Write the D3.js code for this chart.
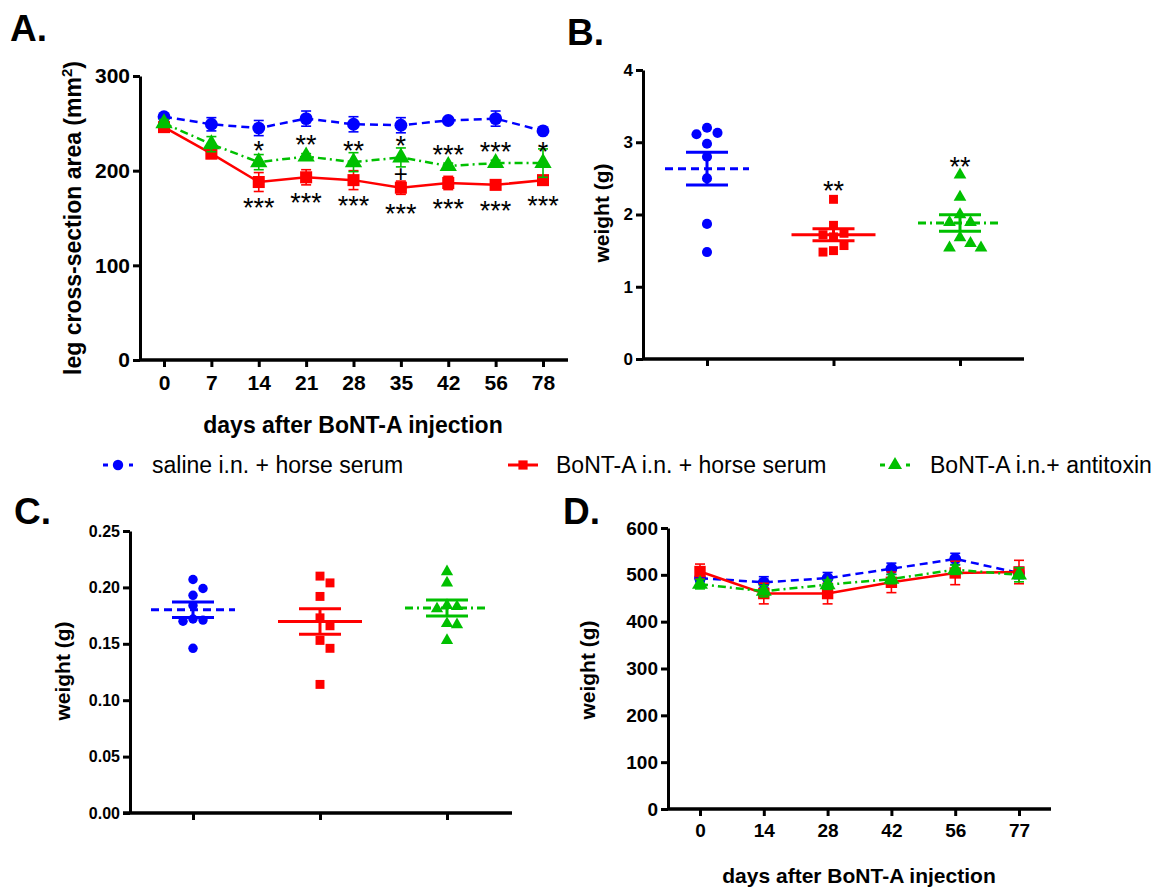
<!DOCTYPE html>
<html>
<head>
<meta charset="utf-8">
<script src="https://cdn.jsdelivr.net/npm/d3@7"></script>
<style>
  body { margin: 0; background: #fff; }
  text { font-family: "Liberation Sans", Arial, sans-serif; }
  .tick text { font-weight: bold; fill: #000; }
</style>
</head>
<body>
<div id="fig"></div>
<script>
// ---- data ----
// A: leg cross-section area (mm2)
var daysA = ["0", "7", "14", "21", "28", "35", "42", "56", "78"];
var salineA = [257, 249, 245, 255, 249, 248, 253, 255, 242];
var salineAErr = [3, 7, 8, 8, 8, 8, 2, 8, 2];
var bontA = [246, 218, 188, 193, 190, 182, 187, 185, 190];
var bontAErr = [5, 5, 10, 8, 10, 7, 7, 4, 4];
var antitoxA = [250, 228, 209, 215, 209, 214, 205, 208, 208];
var antitoxAErr = [4, 8, 8, 3, 10, 10, 3, 3, 15];
var starsAntitoxA = ["", "", "*", "**", "**", "*", "***", "***", "*"];
var starsBontA = ["", "", "***", "***", "***", "***", "***", "***", "***"];
var plusA = ["", "", "", "", "", "+", "", "", ""];

// B: weight (g), individual animals
var salineB = [3.11, 3.20, 3.13, 2.98, 2.80, 2.50, 1.87, 1.48];
var bontB = [1.72, 1.57, 1.69, 2.21, 1.50, 1.74, 1.48, 1.85];
var antitoxB = [2.55, 2.24, 2.00, 1.89, 1.89, 1.68, 1.60, 1.54, 1.54];
var starsB = ["", "**", "**"];

// C: weight (g), individual animals
var salineC = [0.207, 0.199, 0.193, 0.184, 0.172, 0.171, 0.170, 0.146];
var bontC = [0.210, 0.204, 0.192, 0.173, 0.166, 0.153, 0.146, 0.114];
var antitoxC = [0.214, 0.204, 0.184, 0.183, 0.181, 0.168, 0.167, 0.153];

// D: body weight (g)
var daysD = ["0", "14", "28", "42", "56", "77"];
var salineD = [493, 484, 493, 513, 534, 504];
var salineDErr = [8, 12, 12, 12, 12, 12];
var bontD = [507, 460, 460, 484, 504, 506];
var bontDErr = [16, 22, 22, 22, 25, 25];
var antitoxD = [480, 465, 479, 491, 511, 500];
var antitoxDErr = [10, 12, 10, 10, 10, 15];

var groupNames = ["saline i.n. + horse serum", "BoNT-A i.n. + horse serum", "BoNT-A i.n.+ antitoxin"];

// ---- styles ----
var styles = [
  { color: "#0000ff", dash: "8,5", shape: d3.symbolCircle },
  { color: "#ff0000", dash: null, shape: d3.symbolSquare },
  { color: "#00c000", dash: "8,4,2,4", shape: d3.symbolTriangle }
];

var svg = d3.select("#fig").append("svg")
  .attr("width", 1161)
  .attr("height", 893)
  .style("background", "#fff");

function panelLabel(x, y, t) {
  svg.append("text").attr("x", x).attr("y", y)
    .attr("font-size", 37).attr("font-weight", "bold")
    .text(t);
}

function yAxis(scale, x, ticks, fmt, fs) {
  var g = svg.append("g")
    .attr("transform", "translate(" + x + ",0)")
    .call(d3.axisLeft(scale).tickValues(ticks).tickFormat(fmt).tickSize(7).tickSizeOuter(0).tickPadding(3));
  g.select(".domain").attr("stroke-width", 3).attr("stroke", "#000");
  g.selectAll(".tick line").attr("stroke-width", 3).attr("stroke", "#000");
  g.selectAll(".tick text").attr("font-size", fs);
  return g;
}

function xAxis(scale, y, x0, x1, showLabels, fs) {
  var g = svg.append("g")
    .attr("transform", "translate(0," + y + ")")
    .call(d3.axisBottom(scale).tickSize(7).tickPadding(8));
  g.select(".domain").remove();
  g.append("line").attr("x1", x0).attr("x2", x1).attr("y1", 0).attr("y2", 0)
    .attr("stroke", "#000").attr("stroke-width", 3.5);
  g.selectAll(".tick line").attr("stroke-width", 3).attr("stroke", "#000");
  g.selectAll(".tick text").attr("font-size", fs);
  if (!showLabels) g.selectAll(".tick text").remove();
  return g;
}

function yTitle(x, y, fs) {
  return svg.append("text")
    .attr("transform", "translate(" + x + "," + y + ")rotate(-90)")
    .attr("text-anchor", "middle")
    .attr("font-size", fs).attr("font-weight", "bold");
}

// time-course panel (A and D)
function timeCourse(cats, series, xs, ys, size, cap) {
  series.forEach(function (s) {
    var st = styles[s.style];
    var g = svg.append("g");
    var line = d3.line().x(function (d, j) { return xs(cats[j]); }).y(function (d) { return ys(d); });
    g.append("path").datum(s.values)
      .attr("d", line)
      .attr("fill", "none")
      .attr("stroke", st.color)
      .attr("stroke-width", 2.5)
      .attr("stroke-dasharray", st.dash);
    // error bars
    s.values.forEach(function (v, j) {
      var x = xs(cats[j]);
      var e = s.errs[j];
      var eb = g.append("g").attr("stroke", st.color).attr("stroke-width", 1.6);
      eb.append("line").attr("x1", x).attr("x2", x).attr("y1", ys(v - e)).attr("y2", ys(v + e));
      eb.append("line").attr("x1", x - cap).attr("x2", x + cap).attr("y1", ys(v + e)).attr("y2", ys(v + e));
      eb.append("line").attr("x1", x - cap).attr("x2", x + cap).attr("y1", ys(v - e)).attr("y2", ys(v - e));
    });
    g.selectAll("path.pt").data(s.values).enter().append("path")
      .attr("class", "pt")
      .attr("transform", function (d, j) { return "translate(" + xs(cats[j]) + "," + ys(d) + ")"; })
      .attr("d", d3.symbol().type(st.shape).size(size[s.style]))
      .attr("fill", st.color);
  });
}

// beeswarm-like horizontal spread of points in one column
function swarm(vals, ys, step) {
  var order = vals.map(function (v, i) { return i; }).sort(function (a, b) { return vals[b] - vals[a]; });
  var placed = [];
  var off = new Array(vals.length);
  order.forEach(function (i) {
    var y = ys(vals[i]);
    var cands = [0];
    for (var k = 1; k < 6; k++) { cands.push(k * step); cands.push(-k * step); }
    for (var c = 0; c < cands.length; c++) {
      var ok = placed.every(function (p) {
        var dx = p.x - cands[c], dy = p.y - y;
        return dx * dx + dy * dy >= step * step * 0.98;
      });
      if (ok) { off[i] = cands[c]; placed.push({ x: cands[c], y: y }); break; }
    }
  });
  return off;
}

// scatter panel with mean + SEM (B and C)
function scatter(groups, xs, ys, size, step) {
  groups.forEach(function (vals, i) {
    var st = styles[i];
    var cx = xs(groupNames[i]);
    var g = svg.append("g");
    var off = swarm(vals, ys, step);
    g.selectAll("path.pt").data(vals).enter().append("path")
      .attr("class", "pt")
      .attr("transform", function (d, j) { return "translate(" + (cx + off[j]) + "," + ys(d) + ")"; })
      .attr("d", d3.symbol().type(st.shape).size(size[i]))
      .attr("fill", st.color);
    var m = d3.mean(vals);
    var sem = d3.deviation(vals) / Math.sqrt(vals.length);
    g.append("line").attr("x1", cx - 42).attr("x2", cx + 42)
      .attr("y1", ys(m)).attr("y2", ys(m))
      .attr("stroke", st.color).attr("stroke-width", 3)
      .attr("stroke-dasharray", st.dash);
    g.append("line").attr("x1", cx).attr("x2", cx)
      .attr("y1", ys(m - sem)).attr("y2", ys(m + sem))
      .attr("stroke", st.color).attr("stroke-width", 3);
    [m - sem, m + sem].forEach(function (v) {
      g.append("line").attr("x1", cx - 21).attr("x2", cx + 21)
        .attr("y1", ys(v)).attr("y2", ys(v))
        .attr("stroke", st.color).attr("stroke-width", 3);
    });
  });
}

// ===== Panel A =====
panelLabel(10, 41, "A.");
var xA = d3.scalePoint().domain(daysA).range([164, 543]);
var yA = d3.scaleLinear().domain([0, 300]).range([360, 76]);
yAxis(yA, 140, [0, 100, 200, 300], d3.format("d"), 21);
xAxis(xA, 360, 140, 568, true, 21);
var ta = yTitle(81, 218, 23);
ta.append("tspan").text("leg cross-section area (mm");
ta.append("tspan").attr("font-size", 15).attr("dy", -9).text("2");
ta.append("tspan").attr("dy", 9).text(")");
svg.append("text").attr("x", 353).attr("y", 433).attr("text-anchor", "middle")
  .attr("font-size", 23).attr("font-weight", "bold").text("days after BoNT-A injection");

timeCourse(daysA, [
  { values: salineA, errs: salineAErr, style: 0 },
  { values: bontA, errs: bontAErr, style: 1 },
  { values: antitoxA, errs: antitoxAErr, style: 2 }
], xA, yA, [130, 145, 130], 5);

// significance marks
daysA.forEach(function (d, j) {
  var x = xA(d);
  svg.append("text").attr("x", x).attr("y", yA(antitoxA[j]) - 2).attr("text-anchor", "middle")
    .attr("font-size", 27).text(starsAntitoxA[j]);
  svg.append("text").attr("x", x).attr("y", yA(bontA[j]) + 35).attr("text-anchor", "middle")
    .attr("font-size", 27).text(starsBontA[j]);
  svg.append("text").attr("x", x).attr("y", yA(bontA[j]) - 6).attr("text-anchor", "middle")
    .attr("font-size", 24).text(plusA[j]);
});

// ===== Panel B =====
panelLabel(567, 45, "B.");
var xB = d3.scalePoint().domain(groupNames).range([707, 960]);
var yB = d3.scaleLinear().domain([0, 4]).range([359, 70]);
yAxis(yB, 643, [0, 1, 2, 3, 4], d3.format("d"), 17);
xAxis(xB, 359, 643, 1024, false, 17);
yTitle(609, 213, 21).text("weight (g)");
scatter([salineB, bontB, antitoxB], xB, yB, [80, 80, 70], 10.5);
starsB.forEach(function (s, i) {
  var vals = [salineB, bontB, antitoxB][i];
  svg.append("text").attr("x", xB(groupNames[i])).attr("y", yB(d3.max(vals)) + 1)
    .attr("text-anchor", "middle").attr("font-size", 27).text(s);
});

// ===== Legend =====
var legX = [103, 508, 880];
var legTx = [152, 556, 930];
groupNames.forEach(function (n, i) {
  var st = styles[i];
  var lg = svg.append("g");
  lg.append("line").attr("x1", legX[i]).attr("x2", legX[i] + 30).attr("y1", 465).attr("y2", 465)
    .attr("stroke", st.color).attr("stroke-width", 3)
    .attr("stroke-dasharray", i === 1 ? null : "5,7,5,9");
  lg.append("path").attr("transform", "translate(" + (legX[i] + 15) + ",465)")
    .attr("d", d3.symbol().type(st.shape).size(85)).attr("fill", st.color);
  lg.append("text").attr("x", legTx[i]).attr("y", 473).attr("font-size", 23).text(n);
});

// ===== Panel C =====
panelLabel(14, 524, "C.");
var xC = d3.scalePoint().domain(groupNames).range([193, 447]);
var yC = d3.scaleLinear().domain([0, 0.25]).range([813, 531]);
yAxis(yC, 130, [0, 0.05, 0.10, 0.15, 0.20, 0.25], d3.format(".2f"), 16);
xAxis(xC, 813, 123, 512, false, 16);
yTitle(70, 671, 21).text("weight (g)");
scatter([salineC, bontC, antitoxC], xC, yC, [70, 80, 65], 10);

// ===== Panel D =====
panelLabel(563, 524, "D.");
var xD = d3.scalePoint().domain(daysD).range([700, 1019]);
var yD = d3.scaleLinear().domain([0, 600]).range([809, 528]);
yAxis(yD, 668, [0, 100, 200, 300, 400, 500, 600], d3.format("d"), 19);
xAxis(xD, 809, 668, 1051, true, 19);
yTitle(595, 670, 21).text("weight (g)");
svg.append("text").attr("x", 859).attr("y", 883).attr("text-anchor", "middle")
  .attr("font-size", 21).attr("font-weight", "bold").text("days after BoNT-A injection");

timeCourse(daysD, [
  { values: salineD, errs: salineDErr, style: 0 },
  { values: bontD, errs: bontDErr, style: 1 },
  { values: antitoxD, errs: antitoxDErr, style: 2 }
], xD, yD, [110, 130, 110], 5);
</script>
</body>
</html>
